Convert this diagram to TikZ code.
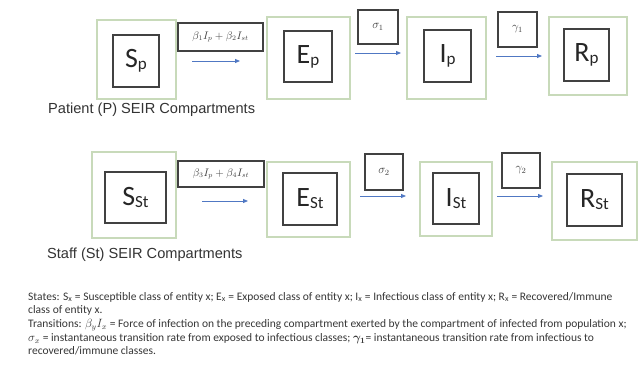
\documentclass[tikz,border=0pt]{standalone}
\usepackage{amsmath}
\usepackage{fontspec}
\setmainfont{Carlito}
\newfontfamily\arialf{Liberation Sans}
\usetikzlibrary{arrows.meta}
\definecolor{gbox}{RGB}{200,218,186}
\definecolor{dbox}{RGB}{65,65,65}
\definecolor{arr}{RGB}{80,120,195}
\definecolor{txt}{RGB}{55,55,55}
\newcommand{\cmp}[2]{{\fontsize{28}{28}\selectfont #1\raisebox{-2pt}{\fontsize{17}{17}\selectfont #2}}}
\begin{document}
\begin{tikzpicture}[x=1pt,y=-1pt,
  outerbox/.style={draw=gbox, line width=1.4pt, inner sep=0pt},
  innerbox/.style={draw=dbox, line width=1.4pt, inner sep=0pt, text=black!85},
  ratebox/.style={draw=dbox, line width=1.1pt, inner sep=0pt, font=\fontsize{10.5}{10.5}\selectfont, text=black!75},
  symbox/.style={ratebox, font=\fontsize{12}{12}\selectfont},
  flow/.style={draw=arr, line width=0.8pt, -{Triangle[length=5pt,width=4pt]}},
  caption/.style={anchor=west, font=\arialf\fontsize{14.6}{14.6}\selectfont, text=black!80, inner sep=0pt}]
\useasboundingbox[fill=white] (0,0) rectangle (641,382);

% ---- Patient row ----
\node[outerbox, minimum width=79pt, minimum height=79pt] (Spo) at (136.5,59.5) {};
\node[innerbox, minimum width=46pt, minimum height=52pt] (Sp) at (136,61) {\cmp{S}{p}};
\node[outerbox, minimum width=83pt, minimum height=82pt] (Epo) at (308.5,58) {};
\node[innerbox, minimum width=48pt, minimum height=51pt] (Ep) at (308,56.5) {\cmp{E}{p}};
\node[outerbox, minimum width=79pt, minimum height=82pt] (Ipo) at (446.5,58) {};
\node[innerbox, minimum width=47pt, minimum height=52pt] (Ip) at (447.5,56) {\cmp{I}{p}};
\node[outerbox, minimum width=78pt, minimum height=78pt] (Rpo) at (588,56) {};
\node[innerbox, minimum width=45pt, minimum height=52pt] (Rp) at (586.5,55) {\cmp{R}{p}};

\node[ratebox, minimum width=85pt, minimum height=28pt] (l1) at (220.5,37) {$\beta_1 I_p + \beta_2 I_{st}$};
\node[symbox, minimum width=40pt, minimum height=34pt] (s1) at (378,27) {$\sigma_1$};
\node[symbox, minimum width=39pt, minimum height=35pt] (g1) at (517.5,29.5) {$\gamma_1$};

\coordinate (a1s) at (192,61); \coordinate (a1e) at (240,61);
\coordinate (a2s) at (355,53); \coordinate (a2e) at (401,53);
\coordinate (a3s) at (496,56); \coordinate (a3e) at (542,56);
\draw[flow] (a1s) -- (a1e);
\draw[flow] (a2s) -- (a2e);
\draw[flow] (a3s) -- (a3e);

\node[caption] (cap1) at (48,110) {Patient (P) SEIR Compartments};

% ---- Staff row ----
\node[outerbox, minimum width=84pt, minimum height=86pt] (Sso) at (134,195) {};
\node[innerbox, minimum width=61pt, minimum height=51pt] (Ss) at (135.5,197.5) {\cmp{S}{St}};
\node[outerbox, minimum width=83pt, minimum height=75pt] (Eso) at (308.5,199.5) {};
\node[innerbox, minimum width=54pt, minimum height=52pt] (Es) at (310,199) {\cmp{E}{St}};
\node[outerbox, minimum width=72pt, minimum height=74pt] (Iso) at (456,199) {};
\node[innerbox, minimum width=46pt, minimum height=51pt] (Is) at (456,198.5) {\cmp{I}{St}};
\node[outerbox, minimum width=85pt, minimum height=78pt] (Rso) at (594.5,201) {};
\node[innerbox, minimum width=55pt, minimum height=52pt] (Rs) at (594.5,200) {\cmp{R}{St}};

\node[ratebox, minimum width=86pt, minimum height=26pt] (l2) at (221,174) {$\beta_3 I_p + \beta_4 I_{st}$};
\node[symbox, minimum width=38pt, minimum height=36pt] (s2) at (384,172) {$\sigma_2$};
\node[symbox, minimum width=38pt, minimum height=35pt] (g2) at (521,170.5) {$\gamma_2$};

\coordinate (b1s) at (202,201); \coordinate (b1e) at (248,201);
\coordinate (b2s) at (360,196); \coordinate (b2e) at (406,196);
\coordinate (b3s) at (497,196); \coordinate (b3e) at (543,196);
\draw[flow] (b1s) -- (b1e);
\draw[flow] (b2s) -- (b2e);
\draw[flow] (b3s) -- (b3e);

\node[caption] (cap2) at (47,255) {Staff (St) SEIR Compartments};

% ---- Legend ----
\node[anchor=north west, inner sep=0pt, align=left, text=txt,
      font=\fontsize{11.5}{13.7}\selectfont] (legend) at (28,292) {%
States: S\textsubscript{x} = Susceptible class of entity x; E\textsubscript{x} = Exposed class of entity x; I\textsubscript{x} = Infectious class of entity x; R\textsubscript{x} = Recovered/Immune\\
class of entity x.\\
Transitions: $\beta_y I_x$ = Force of infection on the preceding compartment exerted by the compartment of infected from population x;\\
$\sigma_x$ = instantaneous transition rate from exposed to infectious classes; $\boldsymbol{\gamma_1}$= instantaneous transition rate from infectious to\\
recovered/immune classes.};
\end{tikzpicture}
\end{document}
